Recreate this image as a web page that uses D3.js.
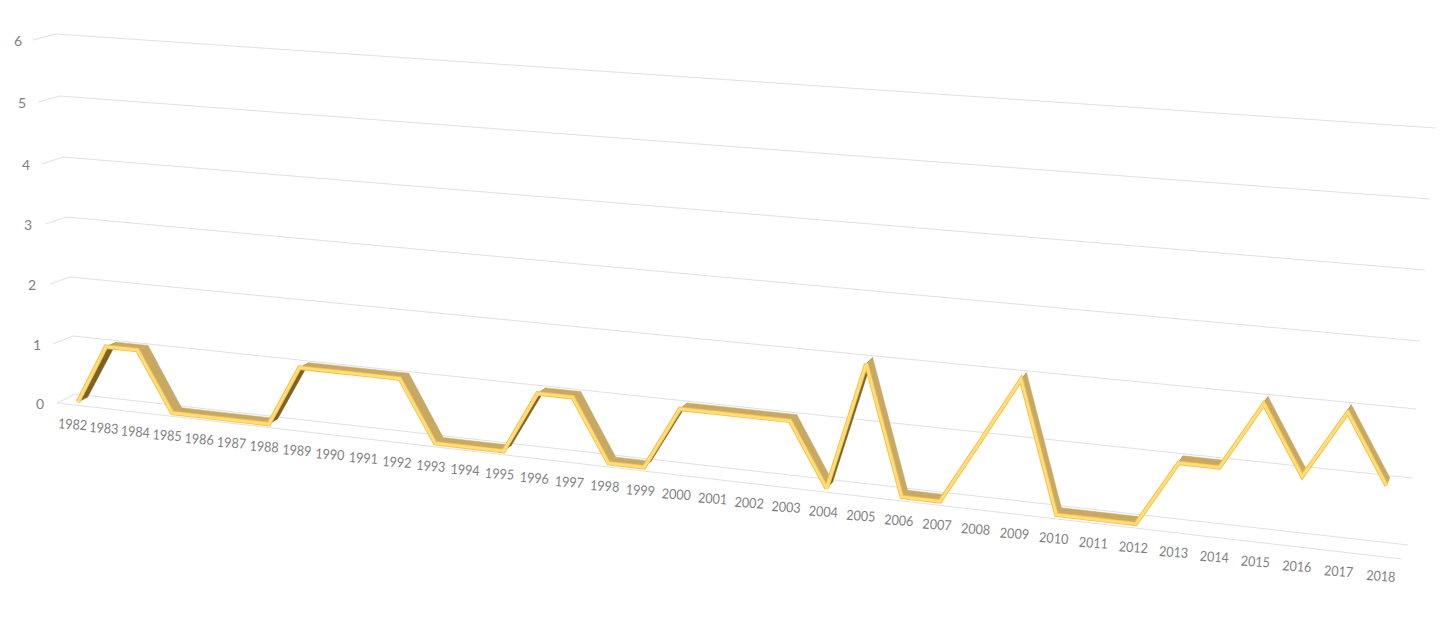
<!DOCTYPE html>
<html>
<head>
<meta charset="utf-8">
<script src="https://cdn.jsdelivr.net/npm/d3@7"></script>
<style>
html,body{margin:0;padding:0;background:#fff;}
svg{display:block;}
text{font-family:Lato,"Open Sans",sans-serif;fill:#7f7f7f;}
</style>
</head>
<body>
<svg id="c" width="1450" height="618"></svg>
<script>
const years = [1982,1983,1984,1985,1986,1987,1988,1989,1990,1991,1992,1993,1994,1995,1996,1997,1998,1999,2000,2001,2002,2003,2004,2005,2006,2007,2008,2009,2010,2011,2012,2013,2014,2015,2016,2017,2018];
const values = [0,1,1,0,0,0,0,1,1,1,1,0,0,0,1,1,0,0,1,1,1,1,0,2,0,0,1,2,0,0,0,1,1,2,1,2,1];
const yTicks = [0,1,2,3,4,5,6];

const W = 1450, H = 618;
const svg = d3.select("#c");

// Projected box corners for each value level
const lvl = d3.scaleLinear().domain(yTicks);
const backLeftX   = lvl.copy().range([75,73,70,66,63,60,56]);
const backLeftY   = lvl.copy().range([394,336,277,217,157,96,34]);
const frontLeftX  = lvl.copy().range([57,53,50,46,42,38,33]);
const frontLeftY  = lvl.copy().range([403,344,284,224,164,102,40]);
const backRightX  = lvl.copy().range([1408,1412,1416,1420,1425,1430,1436]);
const backRightY  = lvl.copy().range([545,478,409,341,270,199,128]);
const frontRightX = lvl.copy().range([1402,1406,1410,1414,1419,1424,1430]);
const frontRightY = lvl.copy().range([559,492,423,355,284,213,142]);

// Perspective along the category axis
const band = d3.scaleBand().domain(years).range([0,1]);
const k = 1.172;
const warp = u => u / (u + k * (1 - u));
const catT = y => warp(band(y) + band.bandwidth() / 2);

const mix = (a, b, t) => a + (b - a) * t;
function project(t, v, z) {
  const lx = mix(frontLeftX(v), backLeftX(v), z), ly = mix(frontLeftY(v), backLeftY(v), z);
  const rx = mix(frontRightX(v), backRightX(v), z), ry = mix(frontRightY(v), backRightY(v), z);
  return [mix(lx, rx, t), mix(ly, ry, t)];
}

// Gridlines
const poly = d3.line();
const gridG = svg.append("g").attr("fill","none").attr("stroke","#e0e0e0").attr("stroke-width",1);
gridG.selectAll("path").data(yTicks).join("path")
  .attr("d", v => poly([project(0,v,0), project(0,v,1), project(1,v,1)]));
gridG.append("path").attr("d", poly([project(0,0,0), project(1,0,0)]));

// Value labels
const valueLabelX = d3.scaleLinear().domain(yTicks).range([40,37,32,28,26,22,18]);
svg.append("g").selectAll("text").data(yTicks).join("text")
  .attr("x", v => valueLabelX(v))
  .attr("y", v => frontLeftY(v) + 2.5)
  .attr("text-anchor","middle").attr("dominant-baseline","middle")
  .attr("font-size",14).text(v => v);

// Year labels
svg.append("g").selectAll("text").data(years).join("text")
  .attr("transform", y => {
    const p = project(catT(y), 0, 0);
    return `translate(${p[0]},${p[1] + 21}) rotate(4) scale(0.9,1)`;
  })
  .attr("text-anchor","middle").attr("dominant-baseline","middle")
  .attr("font-size",14).text(y => y);

// 3D ribbon
const zFront = 0.3, zBack = 0.85;
const pts = years.map((y,i) => ({t: catT(y), v: values[i]}));
const segs = d3.pairs(pts);
const faceColor = ([a,b]) => b.v > a.v ? "#7d6226" : "#c8a964";

svg.append("g").selectAll("path").data(segs).join("path")
  .attr("d", ([a,b]) => poly([
    project(a.t,a.v,zFront), project(b.t,b.v,zFront),
    project(b.t,b.v,zBack), project(a.t,a.v,zBack)
  ]) + "Z")
  .attr("fill", faceColor)
  .attr("stroke", faceColor).attr("stroke-width",0.5);

const front = poly(pts.map(p => project(p.t,p.v,zFront)));
svg.append("path").attr("d",front).attr("fill","none")
  .attr("stroke","#f6c040").attr("stroke-width",4.5).attr("stroke-linejoin","miter").attr("stroke-miterlimit",2.5);
svg.append("path").attr("d",front).attr("fill","none")
  .attr("stroke","#ffde80").attr("stroke-width",2.7).attr("stroke-linejoin","miter").attr("stroke-miterlimit",2.5);
</script>
</body>
</html>
